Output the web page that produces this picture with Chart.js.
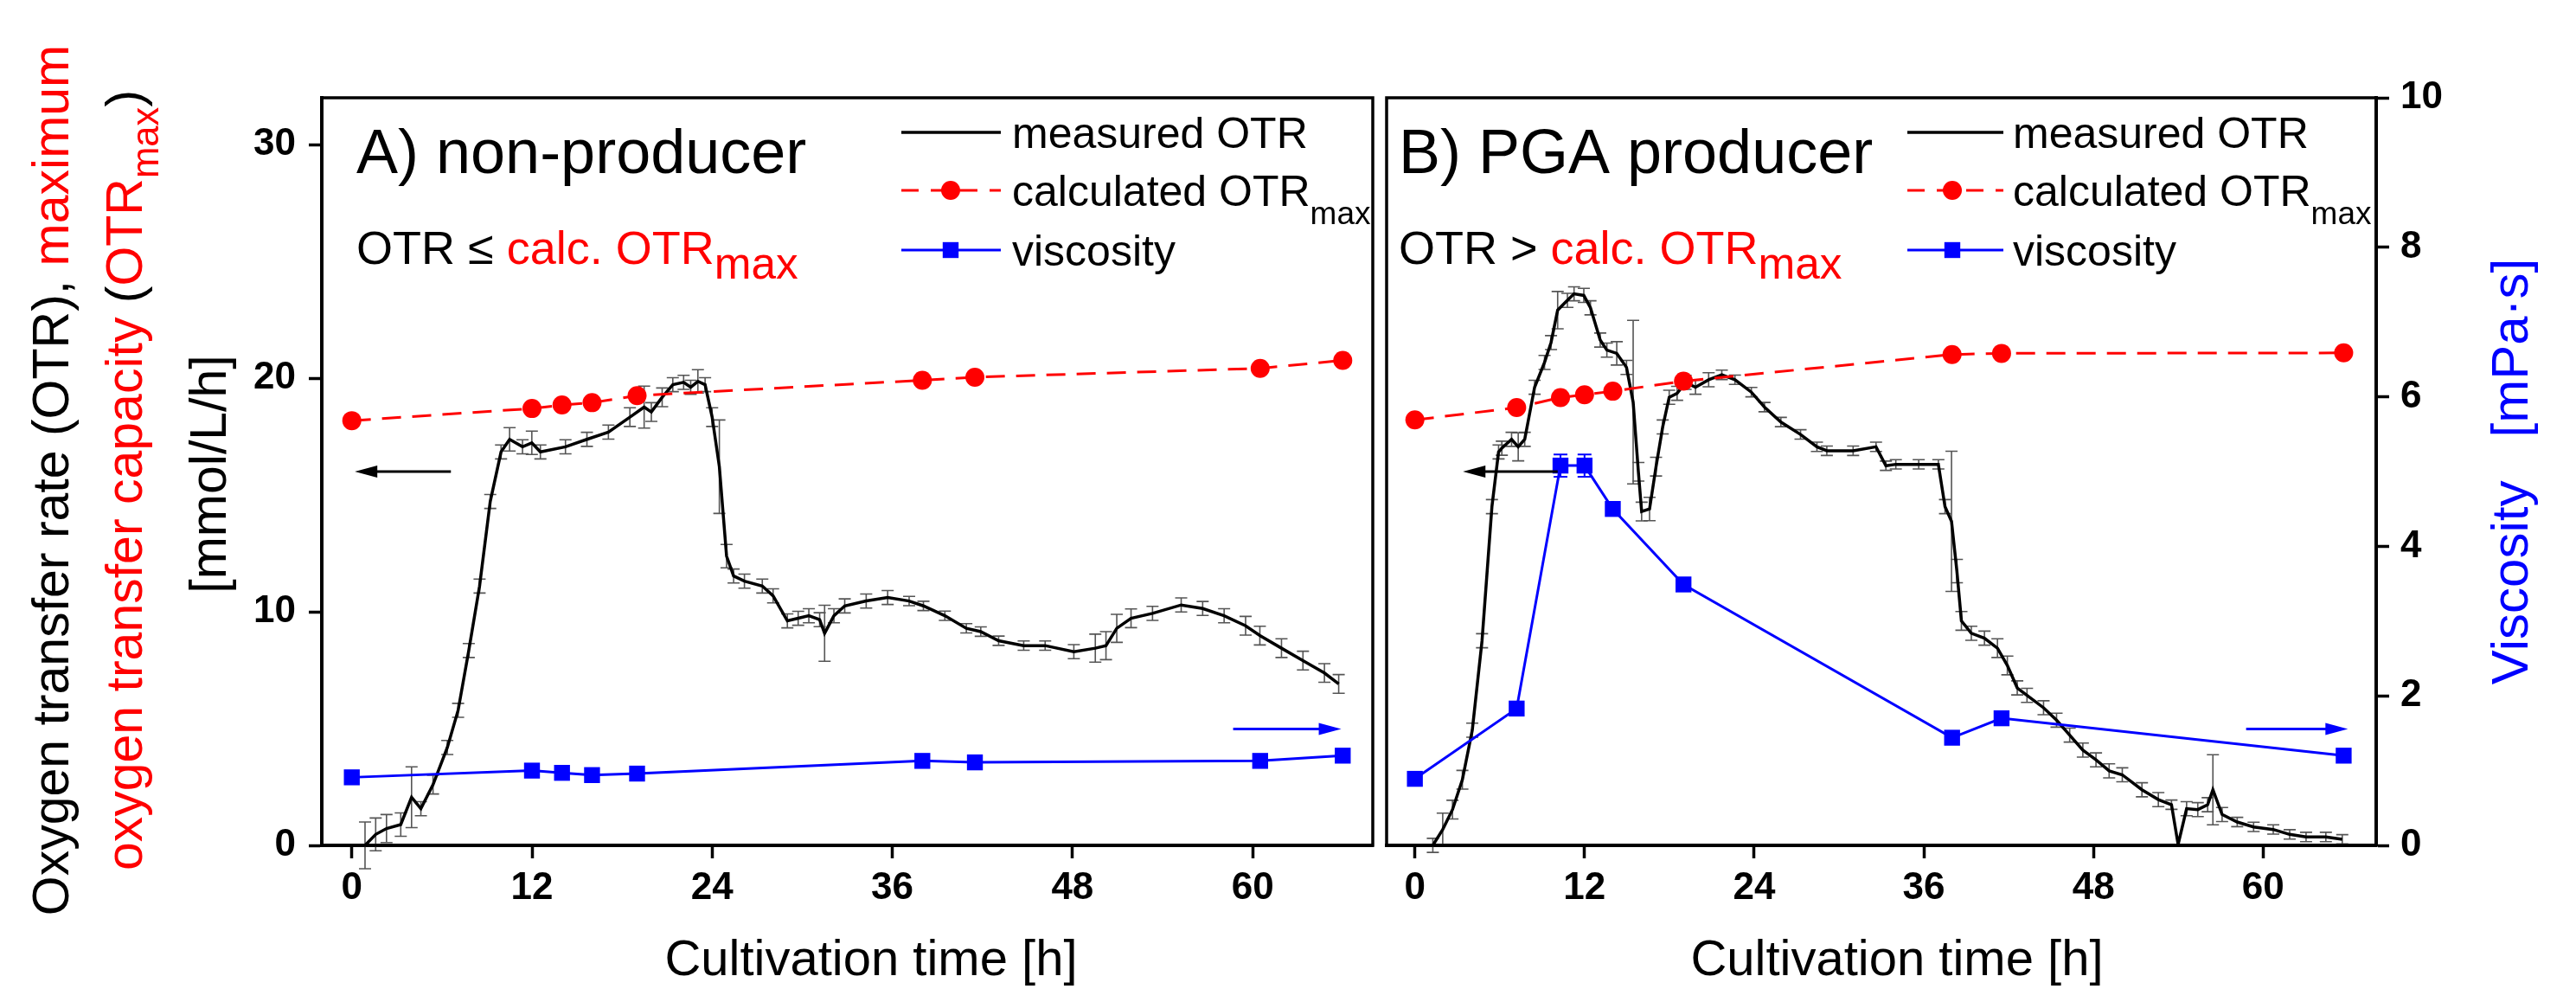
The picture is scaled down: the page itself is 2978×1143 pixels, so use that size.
<!DOCTYPE html>
<html><head><meta charset="utf-8">
<script src="https://cdn.jsdelivr.net/npm/chart.js@4.4.1/dist/chart.umd.min.js"></script>
<style>
html,body{margin:0;padding:0;background:#fff;width:2978px;height:1143px;overflow:hidden}
canvas{position:absolute;top:0}
#cA{left:0}
#cB{left:1590px}
</style></head><body>
<canvas id="cA" width="1600" height="1143"></canvas>
<canvas id="cB" width="1388" height="1143"></canvas>
<script>
// ---------- tick labels ----------
const xTicks = [0, 12, 24, 36, 48, 60];
const otrTicks = [0, 10, 20, 30];
const viscTicks = [0, 2, 4, 6, 8, 10];

// ---------- A) non-producer ----------
const timeA = [0.88,1.59,2.31,3.26,3.98,4.6,5.41,6.36,7.08,7.79,8.51,9.22,9.94,10.51,11.37,11.99,12.56,14.23,15.66,17.09,18.52,19.47,19.95,20.67,21.38,22.1,22.57,23.05,23.53,24.0,24.48,24.96,25.43,26.15,27.34,28.06,29.01,29.73,30.44,31.16,31.49,32.11,32.83,34.26,35.69,37.12,38.07,39.5,40.93,41.89,43.08,44.75,46.18,48.09,49.52,50.23,50.95,51.9,53.33,55.24,56.67,58.1,59.53,60.48,61.92,63.35,64.78,65.73];
const otrA = [0,0.47,0.72,0.89,2.06,1.57,2.6,4.19,5.78,8.34,11.1,14.72,16.84,17.38,17.06,17.23,16.84,17.06,17.38,17.69,18.33,18.76,18.55,19.18,19.72,19.82,19.61,19.86,19.72,18.33,16.21,12.38,11.53,11.31,11.1,10.68,9.61,9.72,9.83,9.66,9.08,9.83,10.25,10.46,10.61,10.46,10.25,9.83,9.29,9.15,8.76,8.55,8.55,8.29,8.44,8.55,9.29,9.72,9.93,10.29,10.14,9.83,9.40,8.98,8.44,7.91,7.38,6.91];
const otrErrA = [1.0,0.7,0.6,0.5,1.3,0.3,0.4,0.3,0.3,0.3, 0.3,0.3,0.3,0.5,0.3,0.5,0.3,0.3,0.3,0.3, 0.4,0.9,0.4,0.4,0.3,0.3,0.3,0.5,0.3,0.4, 2.0,0.5,0.3,0.3,0.3,0.3,0.3,0.3,0.3,0.3, 1.2,0.3,0.3,0.3,0.3,0.2,0.2,0.2,0.2,0.2, 0.2,0.2,0.2,0.3,0.6,0.6,0.6,0.4,0.3,0.3, 0.3,0.3,0.4,0.4,0.4,0.4,0.4,0.4];
const sampleTimeA = [0, 12, 14, 16, 19, 38, 41.5, 60.5, 66];
const otrMaxA = [18.18, 18.70, 18.85, 18.95, 19.25, 19.91, 20.04, 20.42, 20.76];
const viscA = [0.91, 1.00, 0.97, 0.94, 0.96, 1.13, 1.11, 1.13, 1.20];
const viscErrA = [0, 0, 0, 0, 0, 0, 0, 0, 0];

// ---------- B) PGA producer ----------
const timeB = [1.27,1.97,2.66,3.36,4.06,4.75,5.45,5.92,6.15,6.84, 7.31,7.77,8.47,9.17,9.63,10.1,10.79,11.26,11.95,12.42, 13.11,13.58,14.28,14.97,15.44,15.81,16.04,16.6,17.06,17.53, 17.99,18.55,19.15,19.85,20.78,21.71,22.64,23.8,24.73,25.89, 27.28,28.44,29.14,31.0,32.62,33.32,34.02,35.64,37.03,37.5, 37.96,38.34,38.66,39.36,40.29,41.21,41.91,42.61,43.3,44.47, 45.39,46.32,47.25,48.18,49.11,50.04,51.43,52.59,53.52,53.99, 54.59,55.38,56.08,56.45,57.1,58.17,59.33,60.72,61.88,63.04, 64.44,65.6];
const otrB = [0,0.68,1.53,2.81,4.93,8.76,14.5,16.84,17.0,17.38, 17.06,17.38,19.61,20.67,21.52,22.91,23.33,23.61,23.54,23.01, 21.63,21.2,21.06,20.46,18.97,15.99,14.29,14.4,16.21,17.91, 19.18,19.35,19.82,19.61,19.93,20.14,19.93,19.4,18.76,18.12, 17.59,17.06,16.89,16.89,17.06,16.25,16.31,16.31,16.31,14.5, 13.87,11.74,9.61,9.08,8.87,8.44,7.7,6.74,6.42,5.89, 5.36,4.72,4.08,3.66,3.19,3.02,2.38,1.96,1.74,0.04, 1.57,1.53,1.74,2.38,1.32,1.0,0.79,0.68,0.47,0.36, 0.36,0.26];
const otrErrB = [0.3,0.7,0.4,0.4,0.3,0.3,0.3,0.3,0.3,0.3, 0.6,0.3,0.3,0.3,0.3,0.8,0.3,0.3,0.3,0.3, 0.3,0.3,0.5,0.3,3.5,0.4,0.4,0.5,0.4,0.3, 0.3,0.3,0.3,0.3,0.3,0.2,0.2,0.2,0.2,0.2, 0.2,0.2,0.2,0.2,0.2,0.2,0.2,0.2,0.2,0.3, 3.0,0.5,0.4,0.3,0.3,0.4,0.4,0.3,0.3,0.3, 0.3,0.3,0.3,0.3,0.3,0.3,0.3,0.3,0.2,0, 0.3,0.3,0.3,1.5,0.3,0.2,0.2,0.2,0.2,0.2, 0.2,0.2];
const sampleTimeB = [0, 7.2, 10.3, 12, 14, 19, 38, 41.5, 65.7];
const otrMaxB = [18.21, 18.74, 19.17, 19.29, 19.44, 19.87, 21.01, 21.06, 21.08];
const viscB = [0.89, 1.83, 5.08, 5.08, 4.50, 3.49, 1.44, 1.70, 1.20];
const viscErrB = [0, 0, 0.15, 0.15, 0, 0, 0, 0, 0];

// ---------- helpers ----------
const FONT = "'Liberation Sans', Arial, Helvetica, sans-serif";
const RED = '#ff0000', BLUE = '#0000ff';
function pts(xs, ys) { return xs.map((x, i) => ({ x: x, y: ys[i] })); }
function segFont(size, s, sub) { return (s.bold ? 'bold ' : '') + (s.sub ? size * sub : size) + 'px ' + FONT; }
function richWidth(ctx, segs, size, sub) { let w = 0; for (const s of segs) { ctx.font = segFont(size, s, sub); w += ctx.measureText(s.t).width; } return w; }
function drawRich(ctx, segs, x, y, size, align, sub, drop) {
  sub = sub || 0.74; drop = drop || 0.32;
  let cx = align === 'center' ? x - richWidth(ctx, segs, size, sub) / 2 : x;
  ctx.textAlign = 'left'; ctx.textBaseline = 'alphabetic';
  for (const s of segs) {
    ctx.font = segFont(size, s, sub); ctx.fillStyle = s.c || '#000';
    ctx.fillText(s.t, cx, y + (s.sub ? size * drop : 0));
    cx += ctx.measureText(s.t).width;
  }
}

const errorBars = {
  id: 'errorBars',
  beforeDatasetsDraw(chart) {
    const ctx = chart.ctx;
    ctx.save();
    chart.data.datasets.forEach((ds) => {
      if (!ds.errors) return;
      const ys = chart.scales[ds.yAxisID], xs = chart.scales.x;
      ctx.strokeStyle = ds.errorColor; ctx.lineWidth = ds.errorWidth;
      const cap = ds.errorCap;
      ds.data.forEach((p, j) => {
        const e = ds.errors[j]; if (!e) return;
        const px = xs.getPixelForValue(p.x);
        const y1 = ys.getPixelForValue(p.y - e), y2 = ys.getPixelForValue(p.y + e);
        ctx.beginPath();
        ctx.moveTo(px, y1); ctx.lineTo(px, y2);
        ctx.moveTo(px - cap, y1); ctx.lineTo(px + cap, y1);
        ctx.moveTo(px - cap, y2); ctx.lineTo(px + cap, y2);
        ctx.stroke();
      });
    });
    ctx.restore();
  }
};

const decor = {
  id: 'decor',
  afterDatasetsDraw(chart, args, o) {
    const ctx = chart.ctx, ca = chart.chartArea;
    ctx.save();
    ctx.strokeStyle = '#000'; ctx.lineWidth = 3.5;
    ctx.strokeRect(ca.left, ca.top, ca.right - ca.left, ca.bottom - ca.top);
    // arrows
    for (const a of (o.arrows || [])) {
      const xs = chart.scales.x, ys = chart.scales[a.axis];
      const x1 = xs.getPixelForValue(a.x1), x2 = xs.getPixelForValue(a.x2), y = ys.getPixelForValue(a.y);
      const dir = Math.sign(x2 - x1);
      ctx.strokeStyle = a.color; ctx.fillStyle = a.color; ctx.lineWidth = 3; ctx.setLineDash([]);
      ctx.beginPath(); ctx.moveTo(x1, y); ctx.lineTo(x2 - dir * 18, y); ctx.stroke();
      ctx.beginPath(); ctx.moveTo(x2, y); ctx.lineTo(x2 - dir * 26, y - 7); ctx.lineTo(x2 - dir * 26, y + 7); ctx.closePath(); ctx.fill();
    }
    // legend
    const L = o.legend;
    if (L) {
      L.items.forEach((it, k) => {
        const ds = chart.data.datasets[it.ds];
        const y = L.rows[k];
        ctx.strokeStyle = ds.borderColor; ctx.lineWidth = ds.borderWidth;
        ctx.setLineDash(it.dash || []); ctx.lineDashOffset = 0;
        ctx.beginPath(); ctx.moveTo(L.x0, y); ctx.lineTo(L.x1, y); ctx.stroke();
        ctx.setLineDash([]);
        if (ds.pointRadius > 0) {
          ctx.fillStyle = ds.backgroundColor;
          if (ds.pointStyle === 'rect') {
            const h = ds.pointRadius * Math.SQRT1_2;
            ctx.fillRect(L.xm - h, y - h, 2 * h, 2 * h);
          } else {
            ctx.beginPath(); ctx.arc(L.xm, y, ds.pointRadius, 0, Math.PI * 2); ctx.fill();
          }
        }
        drawRich(ctx, it.segs, L.xt, y + L.size * 0.36, L.size, 'left', 0.74, 0.42);
      });
    }
    // texts
    for (const t of (o.texts || [])) {
      if (t.rot) {
        ctx.save(); ctx.translate(t.x, t.y); ctx.rotate(-Math.PI / 2);
        drawRich(ctx, t.segs, 0, t.size * 0.36, t.size, 'center', t.sub, t.drop);
        ctx.restore();
      } else {
        drawRich(ctx, t.segs, t.x, t.y, t.size, t.align || 'left', t.sub, t.drop);
      }
    }
    ctx.restore();
  }
};

const tickFont = { family: FONT, size: 44, weight: 'bold' };
function gridOpts() { return { display: true, drawOnChartArea: false, drawTicks: true, tickLength: 15, tickWidth: 3.5, tickColor: '#000', color: '#000' }; }
function setTicks(arr) { return (s) => { s.ticks = arr.map(v => ({ value: v })); }; }

function datasets(st, omax, visc, vErr, t, otr, oErr) {
  return [
    { label: 'viscosity', data: pts(st, visc), yAxisID: 'yV', borderColor: BLUE, backgroundColor: BLUE, borderWidth: 3,
      pointStyle: 'rect', pointRadius: 13, pointBorderWidth: 0, pointHoverRadius: 13,
      errors: vErr, errorColor: BLUE, errorWidth: 2, errorCap: 8 },
    { label: 'calculated OTRmax', data: pts(st, omax), yAxisID: 'y', borderColor: RED, backgroundColor: RED, borderWidth: 3,
      borderDash: [22, 13], pointRadius: 11, pointBorderWidth: 0, pointHoverRadius: 11 },
    { label: 'measured OTR', data: pts(t, otr), yAxisID: 'y', borderColor: '#000', backgroundColor: '#000', borderWidth: 3.5,
      pointRadius: 0, pointHoverRadius: 0, errors: oErr, errorColor: '#555', errorWidth: 1.6, errorCap: 7 }
  ];
}

function legendDef(x0, x1, xm, xt) {
  return {
    x0: x0, x1: x1, xm: xm, xt: xt, rows: [153, 220, 289], size: 50,
    items: [
      { ds: 2, segs: [{ t: 'measured OTR' }] },
      { ds: 1, dash: [20, 14], segs: [{ t: 'calculated OTR' }, { t: 'max', sub: true }] },
      { ds: 0, segs: [{ t: 'viscosity' }] }
    ]
  };
}

// ---------- Chart A ----------
new Chart(document.getElementById('cA'), {
  type: 'line',
  data: { datasets: datasets(sampleTimeA, otrMaxA, viscA, viscErrA, timeA, otrA, otrErrA) },
  options: {
    responsive: false, animation: false, devicePixelRatio: 1,
    layout: { padding: { top: 113, left: 0, right: 7, bottom: 0 } },
    plugins: {
      legend: { display: false }, tooltip: { enabled: false },
      decor: {
        arrows: [
          { x1: 6.6, x2: 0.2, y: 16, axis: 'y', color: '#000' },
          { x1: 58.7, x2: 65.9, y: 1.556, axis: 'yV', color: BLUE }
        ],
        legend: legendDef(1042, 1157, 1099, 1170),
        texts: [
          { segs: [{ t: 'A) non-producer' }], x: 412, y: 200, size: 72 },
          { segs: [{ t: 'OTR ≤ ' }, { t: 'calc. OTR', c: RED }, { t: 'max', c: RED, sub: true }], x: 412, y: 305, size: 54, sub: 0.95, drop: 0.31 },
          { segs: [{ t: 'Cultivation time [h]' }], x: 1007, y: 1127, size: 58, align: 'center' },
          { rot: true, segs: [{ t: 'Oxygen transfer rate (OTR), ' }, { t: 'maximum', c: RED }], x: 58, y: 555, size: 59 },
          { rot: true, segs: [{ t: 'oxygen transfer capacity ', c: RED }, { t: '(' }, { t: 'OTR', c: RED }, { t: 'max', c: RED, sub: true }, { t: ')' }], x: 143, y: 555, size: 59 },
          { rot: true, segs: [{ t: '[mmol/L/h]' }], x: 240, y: 548, size: 59 }
        ]
      }
    },
    scales: {
      x: { type: 'linear', min: -2, max: 68, bounds: 'data',
        afterBuildTicks: setTicks(xTicks),
        afterFit: (s) => { s.height = 166; s.paddingLeft = 0; s.paddingRight = 0; },
        ticks: { font: tickFont, color: '#000', padding: 8, autoSkip: false, maxRotation: 0 },
        grid: gridOpts(), border: { display: true, width: 4, color: '#000' } },
      y: { type: 'linear', position: 'left', min: 0, max: 32, bounds: 'data',
        afterBuildTicks: setTicks(otrTicks),
        afterFit: (s) => { s.width = 372; s.paddingTop = 0; s.paddingBottom = 0; },
        ticks: { font: tickFont, color: '#000', padding: 15, autoSkip: false },
        grid: gridOpts(), border: { display: true, width: 4, color: '#000' } },
      yV: { type: 'linear', position: 'right', display: false, min: 0, max: 10 }
    }
  },
  plugins: [errorBars, decor]
});

// ---------- Chart B ----------
new Chart(document.getElementById('cB'), {
  type: 'line',
  data: { datasets: datasets(sampleTimeB, otrMaxB, viscB, viscErrB, timeB, otrB, otrErrB) },
  options: {
    responsive: false, animation: false, devicePixelRatio: 1,
    layout: { padding: { top: 113, left: 3, right: 0, bottom: 0 } },
    plugins: {
      legend: { display: false }, tooltip: { enabled: false },
      decor: {
        arrows: [
          { x1: 10.1, x2: 3.4, y: 16, axis: 'y', color: '#000' },
          { x1: 58.8, x2: 66.0, y: 1.556, axis: 'yV', color: BLUE }
        ],
        legend: legendDef(615, 726, 667, 737),
        texts: [
          { segs: [{ t: 'B) PGA producer' }], x: 27, y: 200, size: 72 },
          { segs: [{ t: 'OTR > ' }, { t: 'calc. OTR', c: RED }, { t: 'max', c: RED, sub: true }], x: 27, y: 305, size: 54, sub: 0.95, drop: 0.31 },
          { segs: [{ t: 'Cultivation time [h]' }], x: 603, y: 1127, size: 58, align: 'center' },
          { rot: true, segs: [{ t: 'Viscosity   [mPa·s]', c: BLUE }], x: 1310, y: 545, size: 60 }
        ]
      }
    },
    scales: {
      x: { type: 'linear', min: -2, max: 68, bounds: 'data',
        afterBuildTicks: setTicks(xTicks),
        afterFit: (s) => { s.height = 166; s.paddingLeft = 0; s.paddingRight = 0; },
        ticks: { font: tickFont, color: '#000', padding: 8, autoSkip: false, maxRotation: 0 },
        grid: gridOpts(), border: { display: true, width: 4, color: '#000' } },
      y: { type: 'linear', position: 'left', display: false, min: 0, max: 32 },
      yV: { type: 'linear', position: 'right', min: 0, max: 10, bounds: 'data',
        afterBuildTicks: setTicks(viscTicks),
        afterFit: (s) => { s.width = 231; s.paddingTop = 0; s.paddingBottom = 0; },
        ticks: { font: tickFont, color: '#000', padding: 13, autoSkip: false },
        grid: gridOpts(), border: { display: true, width: 4, color: '#000' } }
    }
  },
  plugins: [errorBars, decor]
});
</script>
</body></html>
